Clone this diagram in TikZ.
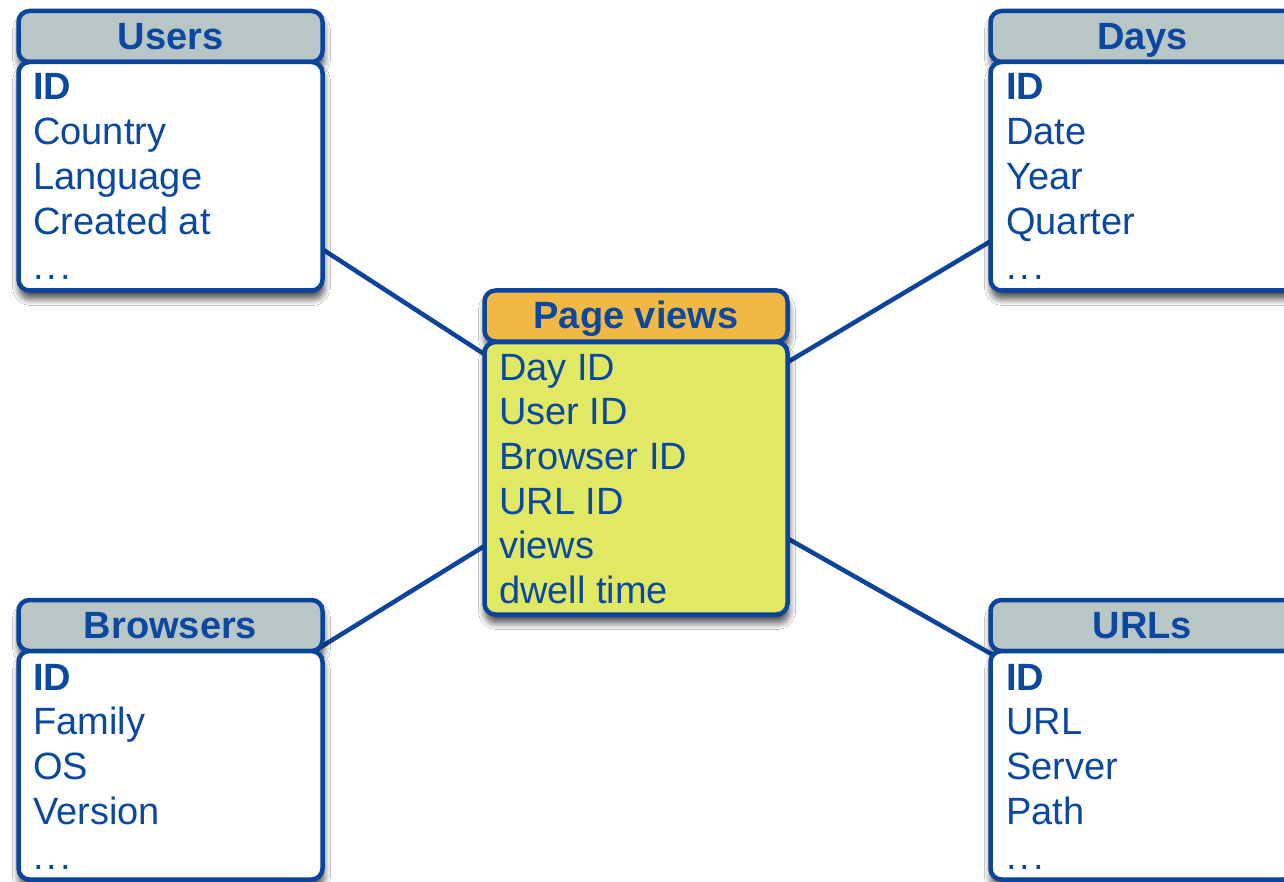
\documentclass[tikz,border=0pt]{standalone}
\usepackage{fontspec}
\setmainfont{Liberation Sans}
\usetikzlibrary{fit,backgrounds,shadows.blur}
\definecolor{edgeblue}{HTML}{0B449B}
\definecolor{inkblue}{HTML}{0B48A0}
\definecolor{headgray}{HTML}{B9C6C6}
\definecolor{factorange}{HTML}{F1B944}
\definecolor{factyellow}{HTML}{E0E864}
\newcommand\tdots{.\kern3pt.\kern3pt.}

\begin{document}
\begin{tikzpicture}[x=1pt,y=-1pt,
  box/.style={draw=edgeblue, line width=4.5pt, rounded corners=11pt, outer sep=0pt,
    inner sep=0pt, anchor=north west, minimum width=304pt,
    blur shadow={shadow xshift=1pt, shadow yshift=-8pt, shadow opacity=75,
      shadow blur radius=7pt, shadow blur steps=12}},
  head/.style={box, fill=headgray, minimum height=51pt, text height=26pt, text depth=0pt,
    font=\fontsize{38}{44}\selectfont\bfseries, text=inkblue},
  body/.style={box, fill=white},
  row/.style={anchor=base west, inner sep=0pt, text=inkblue, font=\fontsize{38}{44}\selectfont},
  link/.style={draw=edgeblue, line width=4.5pt},
  group/.style={inner sep=0pt}
]
\useasboundingbox (0,0) rectangle (1284,882);

% Users dimension table
\node[head] (uh) at (18.5,11) {Users};
\node[body, minimum height=228.5pt] (ub) at (18.5,62) {};
\foreach \t [count=\i from 0] in {{\textbf{ID}},Country,Language,Created at,\tdots}
  \node[row] (u\i) at (33,100+\i*44.8) {\t};
\node[group, fit=(uh)(ub)] (users) {};

% Days dimension table
\node[head] (dh) at (990.5,11) {Days};
\node[body, minimum height=228.5pt] (db) at (990.5,62) {};
\foreach \t [count=\i from 0] in {{\textbf{ID}},Date,Year,Quarter,\tdots}
  \node[row] (d\i) at (1006,100+\i*44.8) {\t};
\node[group, fit=(dh)(db)] (days) {};

% Browsers dimension table
\node[head] (bh) at (18.5,600) {Browsers};
\node[body, minimum height=228.5pt] (bb) at (18.5,651) {};
\foreach \t [count=\i from 0] in {{\textbf{ID}},Family,OS,Version,\tdots}
  \node[row] (b\i) at (33,690+\i*44.8) {\t};
\node[group, fit=(bh)(bb)] (browsers) {};

% URLs dimension table
\node[head] (rh) at (990.5,600) {URLs};
\node[body, minimum height=228.5pt] (rb) at (990.5,651) {};
\foreach \t [count=\i from 0] in {{\textbf{ID}},URL,Server,Path,\tdots}
  \node[row] (r\i) at (1006,690+\i*44.8) {\t};
\node[group, fit=(rh)(rb)] (urls) {};

% Page views fact table
\node[head, fill=factorange, minimum width=303pt] (ph) at (484.5,290.5) {Page views};
\node[body, fill=factyellow, minimum width=303pt, minimum height=272.5pt] (pb) at (484.5,342) {};
\foreach \t [count=\i from 0] in {Day ID,User ID,Browser ID,URL ID,views,dwell time}
  \node[row] (p\i) at (499,380+\i*44.7) {\t};
\node[group, fit=(ph)(pb)] (pv) {};

% white page, then links from the fact table to each dimension
\begin{scope}[on background layer]
  \fill[white] (0,0) rectangle (1284,882);
  \draw[link] (users.center) -- (pv.center);
  \draw[link] (days.center) -- (pv.center);
  \draw[link] (browsers.center) -- (pv.center);
  \draw[link] (urls.center) -- (pv.center);
\end{scope}
\end{tikzpicture}
\end{document}
